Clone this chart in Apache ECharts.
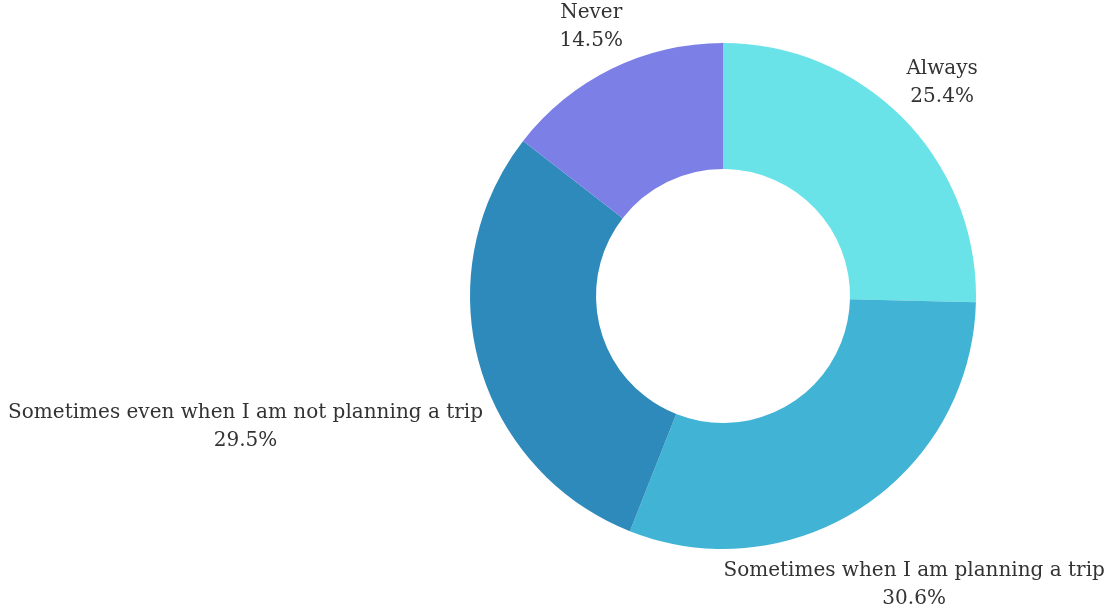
<!DOCTYPE html>
<html>
<head>
<meta charset="utf-8">
<script src="https://cdn.jsdelivr.net/npm/echarts@6/dist/echarts.min.js"></script>
<style>
  html, body { margin: 0; padding: 0; background: #ffffff; }
  #chart { width: 1110px; height: 615px; }
</style>
</head>
<body>
<div id="chart"></div>
<script>
// Answer categories and their shares (percent)
const categories = [
  'Always',
  'Sometimes when I am planning a trip',
  'Sometimes even when I am not planning a trip',
  'Never'
];
const shares = [25.4, 30.6, 29.5, 14.5];
const sliceColors = ['#6ae3e8', '#41b4d5', '#2e8aba', '#7b7fe6'];

// Ring geometry
const CX = 723, CY = 296, R_IN = 127, R_OUT = 253, LABEL_GAP = 8;

const total = shares.reduce((a, b) => a + b, 0);
// mid angle of each slice, clockwise from 12 o'clock
const midAngles = [];
let acc = 0;
shares.forEach(v => {
  midAngles.push((acc + v / 2) / total * Math.PI * 2);
  acc += v;
});

// Push each label box outward along its slice's mid angle until the
// corner nearest the ring sits just outside the outer radius.
function placeLabel(idx, w, h) {
  const a = midAngles[idx];
  const ux = Math.sin(a), uy = -Math.cos(a);
  const ox = (ux >= 0 ? -1 : 1) * w / 2;
  const oy = (uy >= 0 ? -1 : 1) * h / 2;
  const target = R_OUT + LABEL_GAP;
  // |t*u + o| = target  ->  t^2 + 2t(u.o) + |o|^2 - target^2 = 0
  const b = ux * ox + uy * oy;
  const c = ox * ox + oy * oy - target * target;
  const t = -b + Math.sqrt(Math.max(0, b * b - c));
  return { x: CX + t * ux, y: CY + t * uy };
}

const chart = echarts.init(document.getElementById('chart'), null, { renderer: 'canvas' });
chart.setOption({
  backgroundColor: '#ffffff',
  animation: false,
  series: [{
    type: 'pie',
    center: [CX, CY],
    radius: [R_IN, R_OUT],
    startAngle: 90,
    clockwise: true,
    avoidLabelOverlap: false,
    silent: true,
    data: categories.map((name, i) => ({
      name: name,
      value: shares[i],
      itemStyle: { color: sliceColors[i] }
    })),
    label: {
      show: true,
      position: 'outside',
      formatter: p => p.name + '\n' + p.value.toFixed(1) + '%',
      fontFamily: 'DejaVu Serif',
      fontSize: 20,
      lineHeight: 28,
      color: '#333333',
      align: 'center'
    },
    labelLine: { show: false },
    labelLayout: function (params) {
      const r = params.labelRect;
      const pos = placeLabel(params.dataIndex, r.width, r.height);
      return { x: pos.x, y: pos.y, align: 'center', verticalAlign: 'middle' };
    }
  }]
});
</script>
</body>
</html>
